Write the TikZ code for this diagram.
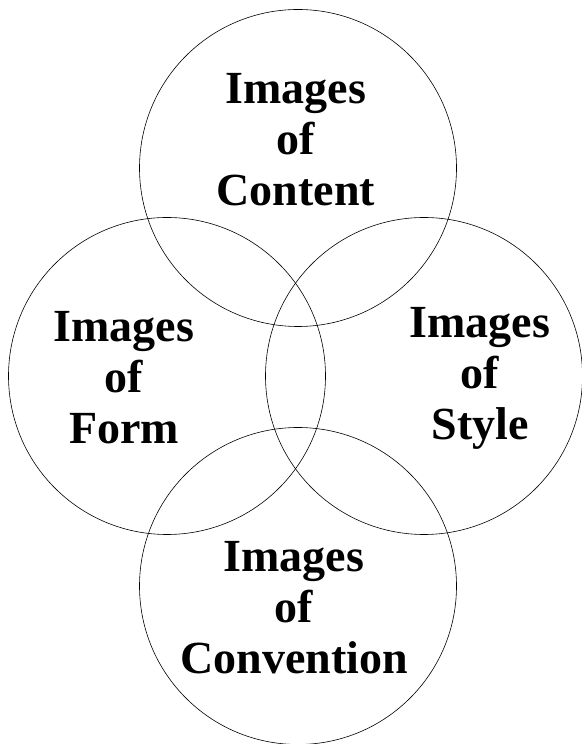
\documentclass[tikz,border=0pt]{standalone}
\usepackage{fontspec}
\setmainfont{Liberation Serif}
\begin{document}
\begin{tikzpicture}[x=1pt,y=1pt,
  ring/.style={draw,circle,line width=0.6pt,minimum size=317pt,inner sep=0pt},
  every node/.style={font=\bfseries\fontsize{46}{51}\selectfont,align=center,inner sep=0pt}]
\useasboundingbox (0,0) rectangle (581,744);
% four overlapping circles
\node[ring] (content) at (298,576) {};
\node[ring] (form) at (167,368) {};
\node[ring] (style) at (424,368) {};
\node[ring] (convention) at (298,158) {};
\node (contentlbl) at (296,604) {Images\\of\\Content};
\node (formlbl) at (124,366) {Images\\of\\Form};
\node (stylelbl) at (480,366) {Images\\of\\Style};
\node (conventionlbl) at (294,136) {Images\\of\\Convention};
\end{tikzpicture}
\end{document}
